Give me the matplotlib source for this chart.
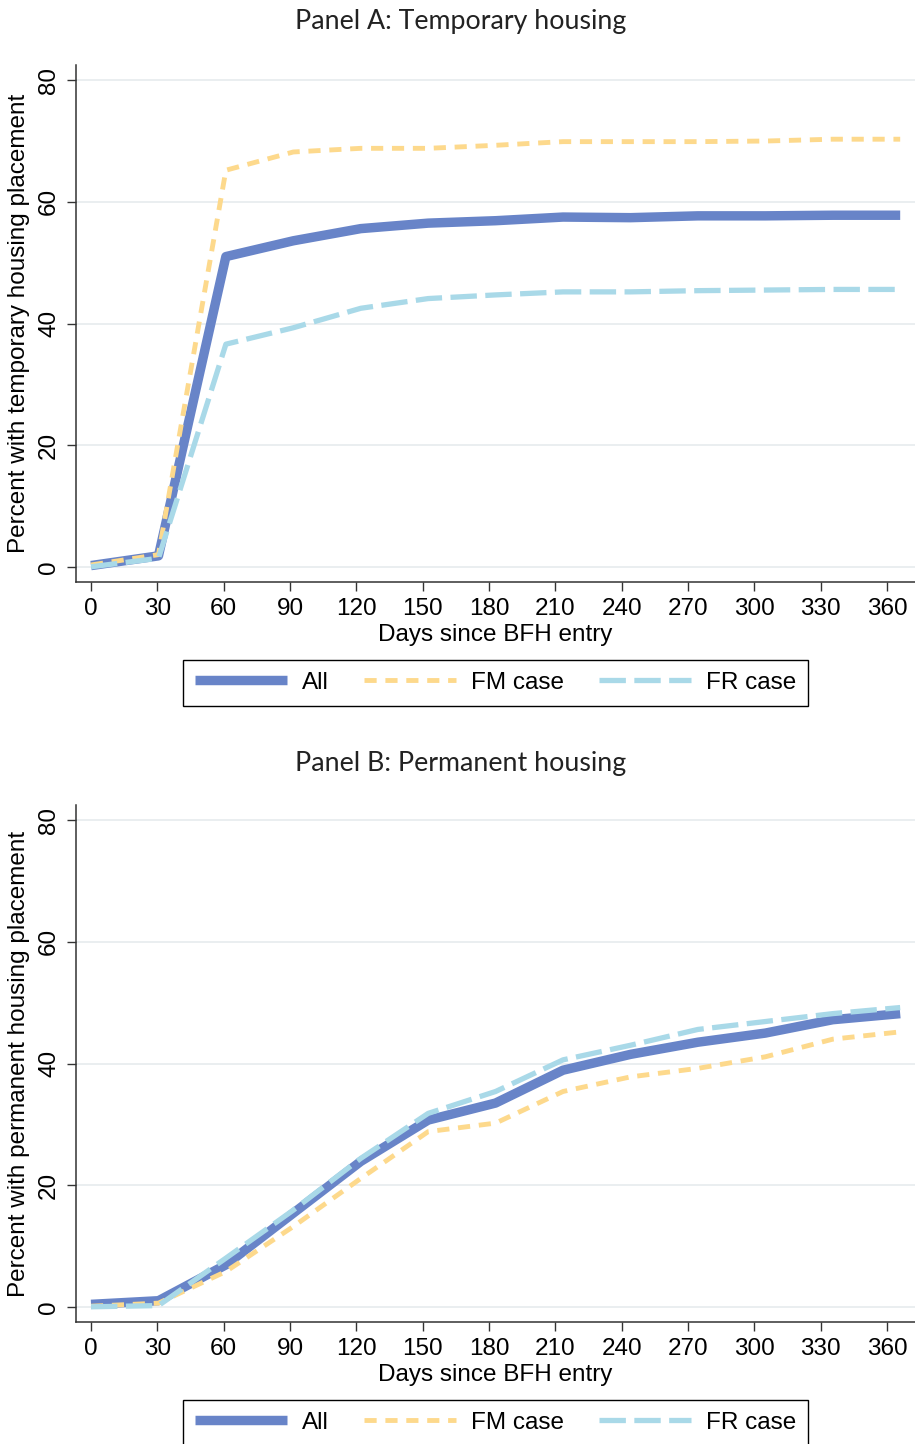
import matplotlib
matplotlib.use("Agg")
import matplotlib.pyplot as plt

# ---------------- data ----------------
days = [0, 30.5, 61, 91.5, 122, 152.5, 183, 213.5, 244, 274.5, 305, 335.5, 366]

temp_all = [0.2, 1.8, 51.0, 53.6, 55.6, 56.5, 56.9, 57.5, 57.4, 57.7, 57.7, 57.8, 57.8]
temp_fm = [0.3, 2.0, 65.2, 68.2, 68.8, 68.8, 69.3, 69.9, 69.9, 69.9, 70.0, 70.3, 70.3]
temp_fr = [0.0, 1.4, 36.6, 39.3, 42.5, 44.1, 44.7, 45.2, 45.2, 45.4, 45.5, 45.6, 45.6]

perm_all = [0.4, 1.0, 6.9, 15.4, 23.9, 30.7, 33.5, 38.9, 41.5, 43.5, 45.0, 47.2, 48.2]
perm_fm = [0.1, 0.6, 5.8, 13.2, 21.1, 28.8, 30.2, 35.4, 37.8, 39.2, 41.1, 44.0, 45.2]
perm_fr = [0.0, 0.2, 8.0, 15.9, 24.4, 31.8, 35.4, 40.6, 43.0, 45.6, 46.9, 48.2, 49.2]

xticks = [0, 30, 60, 90, 120, 150, 180, 210, 240, 270, 300, 330, 360]
yticks = [0, 20, 40, 60, 80]
series_names = ["All", "FM case", "FR case"]
titles = ["Panel A: Temporary housing", "Panel B: Permanent housing"]
ylabels = ["Percent with temporary housing placement",
           "Percent with permanent housing placement"]
xlabel = "Days since BFH entry"

# ---------------- style ----------------
C_ALL = "#6884C8"
C_FM = "#FDD98C"
C_FR = "#A9D9E8"
TXT = "Liberation Sans"
TITLE_FONT = "Lato"
FS = 17.5

plt.rcParams["font.family"] = [TXT, "DejaVu Sans"]

fig = plt.figure(figsize=(9.15, 14.44), dpi=100)
W, H = 915, 1444

def ax_rect(left, top, right, bottom):
    return [left / W, 1 - bottom / H, (right - left) / W, (bottom - top) / H]

axA = fig.add_axes(ax_rect(76, 65, 915, 582))
axB = fig.add_axes(ax_rect(76, 805, 915, 1322))

styles = [
    dict(color=C_ALL, lw=6.8, ls="-", solid_capstyle="butt"),
    dict(color=C_FM, lw=3.5, ls=(0, (2.5, 1.8))),
    dict(color=C_FR, lw=3.8, ls=(0, (5.0, 1.6))),
]

panels = [
    (axA, [temp_all, temp_fm, temp_fr], titles[0], ylabels[0], 22),
    (axB, [perm_all, perm_fm, perm_fr], titles[1], ylabels[1], 763),
]

for ax, series, title, ylab, ty in panels:
    for vals, st, name in zip(series, styles, series_names):
        ax.plot(days, vals, label=name, **st)
    ax.set_xlim(-6.8, 372.7)
    ax.set_ylim(-2.5, 82.5)
    ax.set_xticks(xticks)
    ax.set_yticks(yticks)
    ax.set_xticklabels([str(t) for t in xticks], fontsize=FS)
    ax.set_yticklabels([str(t) for t in yticks], fontsize=FS, rotation=90, va="center")
    ax.grid(axis="y", color="#EAEEF0", lw=1.4)
    ax.grid(axis="x", visible=False)
    ax.set_axisbelow(True)
    for s in ["top", "right"]:
        ax.spines[s].set_visible(False)
    for s in ["left", "bottom"]:
        ax.spines[s].set_color("#333333")
        ax.spines[s].set_linewidth(1.1)
    ax.tick_params(axis="both", length=6.5, width=1.0, color="#333333", pad=5)
    ax.set_xlabel(xlabel, fontsize=FS, labelpad=3)
    ax.set_ylabel(ylab, fontsize=FS, labelpad=6)
    fig.text(0.503, 1 - ty / H, title, ha="center", va="center",
             fontsize=19.3, family=[TITLE_FONT, "DejaVu Sans"], color="#222222")
    leg = ax.legend(loc="upper center", bbox_to_anchor=(0.5, -0.127), ncol=3,
                    fontsize=FS, frameon=True, fancybox=False, framealpha=1,
                    edgecolor="black", handlelength=3.8, handletextpad=0.6,
                    columnspacing=1.45, borderpad=0.5)
    leg.get_frame().set_linewidth(1.0)

fig.savefig("out.png", dpi=100)
